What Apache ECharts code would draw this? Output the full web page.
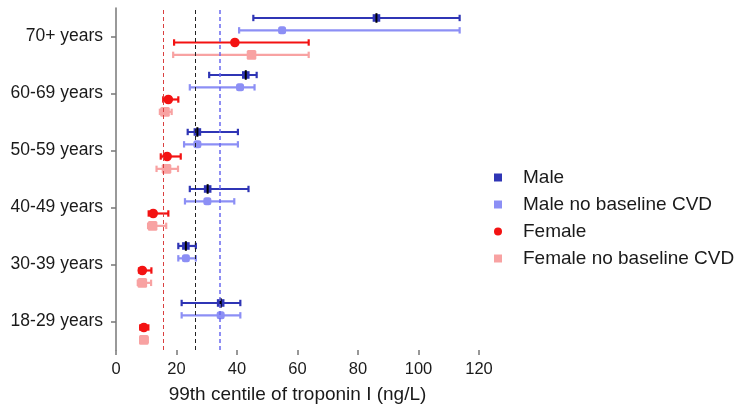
<!DOCTYPE html>
<html>
<head>
<meta charset="utf-8">
<script src="https://cdn.jsdelivr.net/npm/echarts@6/dist/echarts.min.js"></script>
<style>
  html, body { margin: 0; padding: 0; background: #fff; }
  #chart { width: 739px; height: 409px; }
</style>
</head>
<body>
<div id="chart"></div>
<script>
// Age groups, bottom to top
const ageGroups = ['18-29 years', '30-39 years', '40-49 years', '50-59 years', '60-69 years', '70+ years'];

// 99th centile estimates with lower / upper confidence limits (ng/L)
const maleEst  = [34.6, 23.1, 30.3, 26.9, 42.9, 86.1];
const maleLow  = [21.7, 20.6, 24.4, 23.7, 30.8, 45.4];
const maleHigh = [41.1, 26.4, 43.8, 40.3, 46.5, 113.6];

const maleNoCvdEst  = [34.6, 23.1, 30.2, 26.9, 41.0, 54.9];
const maleNoCvdLow  = [21.7, 20.6, 22.8, 22.5, 24.4, 40.7];
const maleNoCvdHigh = [41.1, 26.4, 39.1, 40.3, 45.8, 113.6];

const femaleEst  = [9.2, 8.7, 12.3, 16.9, 17.3, 39.3];
const femaleLow  = [8.0, 7.6, 10.8, 14.8, 15.6, 19.2];
const femaleHigh = [10.7, 11.7, 17.3, 21.4, 20.6, 63.7];

const femaleNoCvdEst  = [9.2, 8.7, 12.1, 16.7, 16.2, 44.8];
const femaleNoCvdLow  = [8.0, 7.2, 10.6, 13.4, 14.5, 18.9];
const femaleNoCvdHigh = [10.5, 11.6, 16.6, 20.5, 18.4, 63.7];

// Overall thresholds drawn as dashed verticals
const thresholdFemale = 15.6;
const thresholdAll = 26.3;
const thresholdMale = 34.2;

const xTicks = [0, 20, 40, 60, 80, 100, 120];

const FONT = '"Liberation Sans", Arial, sans-serif';

function rows(est, low, high) {
  return est.map((v, i) => [v, i, low[i], high[i]]);
}

// Error bar with caps plus a marker, shifted within the category band
function makeRenderer(offset, marker, color, lineW) {
  return function (params, api) {
    const cat = api.value(1);
    const c = api.coord([api.value(0), cat]);
    const band = api.size([0, 1])[1];
    const y = c[1] + offset * band;
    const xl = api.coord([api.value(2), cat])[0];
    const xh = api.coord([api.value(3), cat])[0];
    const cap = 3.2;
    const ls = { stroke: color, lineWidth: lineW };
    const children = [
      { type: 'line', shape: { x1: xl, y1: y, x2: xh, y2: y }, style: ls },
      { type: 'line', shape: { x1: xl, y1: y - cap, x2: xl, y2: y + cap }, style: ls },
      { type: 'line', shape: { x1: xh, y1: y - cap, x2: xh, y2: y + cap }, style: ls }
    ];
    if (marker === 'male') {
      children.push({ type: 'rect', shape: { x: c[0] - 3.8, y: y - 3.8, width: 7.6, height: 7.6 }, style: { fill: color } });
      children.push({ type: 'rect', shape: { x: c[0] - 1, y: y - 4.8, width: 2, height: 9.6 }, style: { fill: '#000' } });
    } else if (marker === 'maleNo') {
      children.push({ type: 'rect', shape: { x: c[0] - 4, y: y - 4, width: 8, height: 8, r: 2.5 }, style: { fill: color } });
    } else if (marker === 'female') {
      children.push({ type: 'circle', shape: { cx: c[0], cy: y, r: 4.8 }, style: { fill: color } });
    } else {
      children.push({ type: 'rect', shape: { x: c[0] - 4.8, y: y - 4.8, width: 9.6, height: 9.6, r: 1.5 }, style: { fill: color } });
    }
    return { type: 'group', children: children };
  };
}

const COL_MALE = '#2f35b5';
const COL_MALE_NO = '#8c8ff5';
const COL_FEMALE = '#f31212';
const COL_FEMALE_NO = '#f8a2a2';

function refLine(value, color, width) {
  return {
    xAxis: value,
    lineStyle: { color: color, width: width, type: [4, 3] }
  };
}

const chart = echarts.init(document.getElementById('chart'), null, { renderer: 'canvas' });

const legendNames = ['Male', 'Male no baseline CVD', 'Female', 'Female no baseline CVD'];

chart.setOption({
  animation: false,
  backgroundColor: '#fff',
  textStyle: { fontFamily: FONT },
  grid: { left: 116, right: 260, top: 8, bottom: 57, containLabel: false },
  legend: {
    orient: 'vertical',
    left: 489,
    top: 163,
    itemWidth: 8,
    itemHeight: 8,
    itemGap: 8,
    textStyle: { fontFamily: FONT, fontSize: 19, color: '#1a1a1a', padding: [0, 0, 0, 16] },
    data: [
      { name: legendNames[0], icon: 'rect', itemStyle: { color: COL_MALE } },
      { name: legendNames[1], icon: 'rect', itemStyle: { color: COL_MALE_NO } },
      { name: legendNames[2], icon: 'circle', itemStyle: { color: COL_FEMALE } },
      { name: legendNames[3], icon: 'rect', itemStyle: { color: COL_FEMALE_NO } }
    ]
  },
  xAxis: {
    type: 'value',
    min: xTicks[0],
    max: xTicks[xTicks.length - 1],
    interval: xTicks[1] - xTicks[0],
    name: '99th centile of troponin I (ng/L)',
    nameLocation: 'middle',
    nameGap: 35,
    nameTextStyle: { fontFamily: FONT, fontSize: 19, color: '#1a1a1a' },
    axisLine: { lineStyle: { color: '#777', width: 1.5 } },
    axisTick: { show: true, inside: false, length: 5, lineStyle: { color: '#777', width: 1.5 } },
    axisLabel: { fontFamily: FONT, fontSize: 16.5, color: '#1a1a1a', margin: 11 },
    splitLine: { show: false }
  },
  yAxis: {
    type: 'category',
    data: ageGroups,
    boundaryGap: true,
    axisLine: { lineStyle: { color: '#777', width: 1.5 } },
    axisTick: { show: true, alignWithLabel: true, inside: false, length: 5, lineStyle: { color: '#777', width: 1.5 } },
    axisLabel: { fontFamily: FONT, fontSize: 17.5, color: '#1a1a1a', margin: 13 },
    splitLine: { show: false }
  },
  series: [
    {
      name: 'thresholds',
      type: 'custom',
      renderItem: function () { return { type: 'group', children: [] }; },
      data: [],
      silent: true,
      markLine: {
        silent: true,
        symbol: 'none',
        label: { show: false },
        data: [
          refLine(thresholdFemale, '#d94040', 1),
          refLine(thresholdAll, '#222', 1),
          refLine(thresholdMale, '#6a6af0', 1.5)
        ]
      }
    },
    {
      name: legendNames[0], type: 'custom', color: COL_MALE,
      encode: { x: 0, y: 1 },
      renderItem: makeRenderer(-0.325, 'male', COL_MALE, 2.2),
      data: rows(maleEst, maleLow, maleHigh)
    },
    {
      name: legendNames[1], type: 'custom', color: COL_MALE_NO,
      encode: { x: 0, y: 1 },
      renderItem: makeRenderer(-0.108, 'maleNo', COL_MALE_NO, 2.2),
      data: rows(maleNoCvdEst, maleNoCvdLow, maleNoCvdHigh)
    },
    {
      name: legendNames[2], type: 'custom', color: COL_FEMALE,
      encode: { x: 0, y: 1 },
      renderItem: makeRenderer(0.105, 'female', COL_FEMALE, 2.2),
      data: rows(femaleEst, femaleLow, femaleHigh)
    },
    {
      name: legendNames[3], type: 'custom', color: COL_FEMALE_NO,
      encode: { x: 0, y: 1 },
      renderItem: makeRenderer(0.322, 'femaleNo', COL_FEMALE_NO, 2.2),
      data: rows(femaleNoCvdEst, femaleNoCvdLow, femaleNoCvdHigh)
    }
  ]
});
</script>
</body>
</html>
